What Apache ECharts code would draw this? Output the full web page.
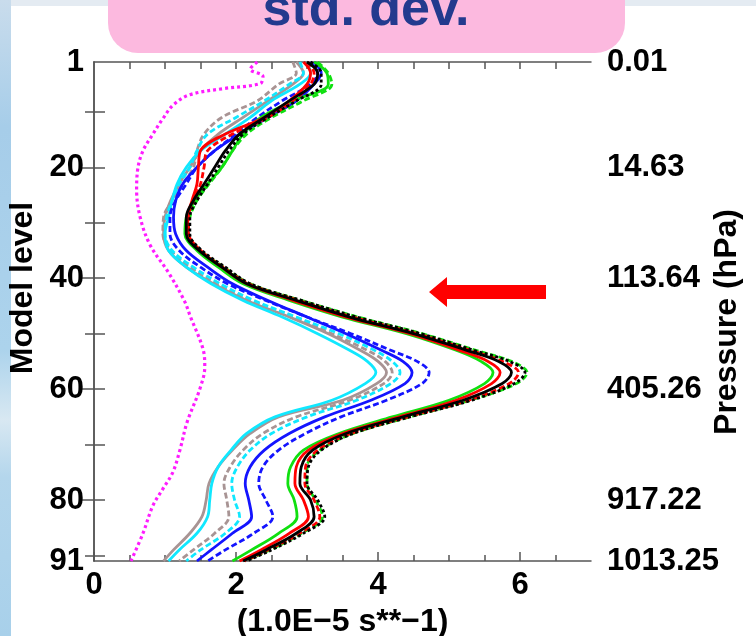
<!DOCTYPE html>
<html>
<head>
<meta charset="utf-8">
<script src="https://cdn.jsdelivr.net/npm/echarts@6/dist/echarts.min.js"></script>
<style>html,body{margin:0;padding:0;background:#fff}#c{width:756px;height:636px}</style>
</head>
<body>
<div id="c"></div>
<script>
// ---- data ----
const levels = [1,3,5,8,11,14,17,20,23,26,29,32,35,38,41,44,47,50,53,55,57,59,62,65,68,71,74,77,80,83,86,89,91];
const greenSolid = [3.1,3.28,3.3,2.8,2.35,2.1,1.95,1.8,1.6,1.42,1.3,1.28,1.45,1.75,2.1,2.75,3.5,4.4,5.1,5.45,5.62,5.5,5.0,4.2,3.45,2.95,2.77,2.73,2.82,2.86,2.6,2.22,1.95];
const greenDashed = [3.15,3.3,3.35,2.95,2.5,2.15,1.95,1.8,1.62,1.45,1.35,1.33,1.5,1.83,2.2,2.92,3.72,4.62,5.38,5.88,6.1,5.95,5.3,4.45,3.65,3.18,3.0,3.0,3.12,3.22,2.92,2.48,2.12];
const redSolid = [2.95,3.05,3.0,2.75,2.4,1.85,1.5,1.47,1.45,1.38,1.32,1.33,1.5,1.8,2.15,2.8,3.55,4.45,5.15,5.55,5.72,5.6,5.1,4.3,3.5,3.02,2.85,2.83,2.95,3.02,2.75,2.35,2.05];
const redDashed = [3.0,3.1,3.05,2.8,2.45,1.95,1.6,1.55,1.5,1.4,1.33,1.33,1.5,1.82,2.18,2.88,3.65,4.55,5.3,5.75,5.98,5.85,5.28,4.42,3.62,3.15,2.98,2.97,3.1,3.18,2.9,2.45,2.12];
const blackSolid = [3.0,3.15,3.1,2.75,2.4,2.05,1.85,1.7,1.55,1.4,1.3,1.3,1.48,1.8,2.15,2.85,3.6,4.5,5.25,5.7,5.88,5.75,5.2,4.35,3.55,3.08,2.92,2.9,3.05,3.1,2.85,2.42,2.1];
const blackDotted = [3.05,3.2,3.2,2.85,2.45,2.1,1.9,1.75,1.6,1.45,1.35,1.35,1.52,1.85,2.2,2.92,3.7,4.6,5.35,5.85,6.07,5.92,5.32,4.45,3.65,3.2,3.02,3.0,3.15,3.25,2.95,2.5,2.15];
const blueSolid = [3.1,3.2,3.1,2.85,2.45,2.05,1.7,1.45,1.25,1.15,1.12,1.15,1.3,1.6,1.95,2.45,3.0,3.55,4.05,4.35,4.48,4.38,3.9,3.25,2.75,2.4,2.2,2.13,2.18,2.22,1.95,1.65,1.45];
const blueDashed = [3.05,3.15,3.05,2.65,2.3,2.0,1.7,1.45,1.3,1.15,1.07,1.07,1.2,1.5,1.88,2.42,3.0,3.62,4.18,4.55,4.72,4.62,4.12,3.48,2.98,2.6,2.38,2.32,2.42,2.52,2.25,1.85,1.6];
const cyanSolid = [3.0,3.05,2.9,2.5,2.2,1.85,1.5,1.3,1.17,1.1,1.05,1.0,1.05,1.3,1.65,2.1,2.65,3.15,3.6,3.85,3.97,3.82,3.35,2.55,2.15,1.93,1.75,1.66,1.63,1.6,1.45,1.2,1.05];
const cyanDashed = [2.9,2.95,2.75,2.4,2.0,1.6,1.45,1.35,1.2,1.1,1.02,1.0,1.1,1.4,1.78,2.25,2.85,3.45,3.95,4.2,4.31,4.18,3.7,3.0,2.5,2.2,2.02,1.94,1.98,2.05,1.85,1.5,1.3];
const graySolid = [2.85,2.95,2.8,2.45,2.1,1.75,1.5,1.35,1.2,1.08,1.0,0.98,1.05,1.3,1.68,2.15,2.75,3.3,3.75,4.0,4.12,3.98,3.5,2.6,2.2,1.95,1.75,1.62,1.58,1.52,1.35,1.12,0.98];
const grayDashed = [2.8,2.85,2.6,2.3,1.8,1.55,1.45,1.4,1.25,1.1,0.98,0.97,1.08,1.35,1.72,2.2,2.8,3.35,3.85,4.1,4.2,4.08,3.6,2.85,2.38,2.1,1.92,1.83,1.87,1.9,1.7,1.4,1.2];
const levelsMagenta = [1,2.3,3.6,4.9,5.8,6.9,8.7,11.2,14,17,20,24,29,34,39,44,47,53,56,60,66,71,75,78,81,86,91];
const magentaDotted = [2.3,2.2,2.38,2.34,1.82,1.35,1.12,0.97,0.83,0.69,0.62,0.6,0.65,0.79,1.05,1.27,1.36,1.54,1.56,1.49,1.31,1.21,1.11,0.97,0.83,0.69,0.52];

const xLabelTicks = [0,2,4,6];
const xMinorTicks = [0.5,1,1.5,2.5,3,3.5,4.5,5,5.5,6.5];
const xTopTicks = [0.5,1,1.5,2,2.5,3,3.5,4,4.5,5,5.5,6,6.5];
const levelLabels = [1,20,40,60,80,91];
const levelTicks = [10,20,30,40,50,60,70,80,90];
const rightMajorTicks = [20,40,60,80];
const rightMinorTicks = [10,30,50,70,90];
const pressureLabels = ['0.01','14.63','113.64','405.26','917.22','1013.25'];

// ---- chart ----
const FONT = '"Liberation Sans", Arial, Helvetica, sans-serif';
const chart = echarts.init(document.getElementById('c'), null, {renderer:'canvas'});

function mk(name, vals, lv, color, type, width, z) {
  return {
    name, type:'line', xAxisIndex:0, yAxisIndex:0,
    data: lv.map((L,i)=>[vals[i], L]),
    symbol:'none', smooth:0.35, silent:true, z: z||2,
    lineStyle:{color, width: width||2.8, type: type||'solid', cap:'butt'}
  };
}
const DASH=[6,3], DOT=[3,2.5];
const series = [
  mk('magenta', magentaDotted, levelsMagenta, '#ff1cff', [3,3], 3.2),
  mk('graySolid', graySolid, levels, '#a89494', 'solid'),
  mk('grayDashed', grayDashed, levels, '#a89494', DASH),
  mk('cyanSolid', cyanSolid, levels, '#10e8ff', 'solid'),
  mk('cyanDashed', cyanDashed, levels, '#10e8ff', DASH),
  mk('blueSolid', blueSolid, levels, '#1414ff', 'solid'),
  mk('blueDashed', blueDashed, levels, '#1414ff', DASH),
  mk('greenSolid', greenSolid, levels, '#10e010', 'solid'),
  mk('greenDashed', greenDashed, levels, '#10e010', DASH),
  mk('redSolid', redSolid, levels, '#ff0000', 'solid'),
  mk('redDashed', redDashed, levels, '#ff0000', DASH),
  mk('blackSolid', blackSolid, levels, '#000000', 'solid'),
  mk('blackDotted', blackDotted, levels, '#000000', DOT)
];

const lineStyle = {color:'#555', width:1.5};
const labelStyle = {color:'#000', fontFamily:FONT, fontSize:31, fontWeight:'bold'};
const base = {type:'value', min:0, max:7, splitLine:{show:false}};
const ybase = {type:'value', min:1, max:91, inverse:true, splitLine:{show:false}};

const option = {
  animation:false,
  backgroundColor:'#ffffff',
  grid:{left:94, right:165, top:62, bottom:75, containLabel:false, outerBoundsMode:'none'},
  xAxis:[
    Object.assign({}, base, {position:'bottom',
      axisLine:{show:true, lineStyle},
      axisTick:{show:true, inside:true, length:9, lineStyle, customValues:xLabelTicks},
      axisLabel:Object.assign({show:true, margin:9, customValues:xLabelTicks}, labelStyle),
      name:'(1.0E\u22125 s**\u22121)', nameLocation:'middle', nameGap:39,
      nameTextStyle:{color:'#000', fontFamily:FONT, fontSize:32, fontWeight:'bold', verticalAlign:'top'}
    }),
    Object.assign({}, base, {position:'bottom',
      axisLine:{show:false},
      axisTick:{show:true, inside:true, length:6, lineStyle, customValues:xMinorTicks},
      axisLabel:{show:false}
    }),
    Object.assign({}, base, {position:'top',
      axisLine:{show:true, lineStyle},
      axisTick:{show:true, inside:true, length:7, lineStyle, customValues:xTopTicks},
      axisLabel:{show:false}
    })
  ],
  yAxis:[
    Object.assign({}, ybase, {position:'left',
      axisLine:{show:true, lineStyle},
      axisTick:{show:true, inside:true, length:11, lineStyle, customValues:levelTicks},
      axisLabel:Object.assign({show:true, margin:10, customValues:levelLabels}, labelStyle)
    }),
    Object.assign({}, ybase, {position:'right',
      axisLine:{show:true, lineStyle},
      axisTick:{show:true, inside:true, length:15, lineStyle, customValues:rightMajorTicks},
      axisLabel:Object.assign({show:true, margin:16, customValues:levelLabels,
        formatter:(v)=>pressureLabels[levelLabels.indexOf(v)]}, labelStyle)
    }),
    Object.assign({}, ybase, {position:'right',
      axisLine:{show:false},
      axisTick:{show:true, inside:true, length:9, lineStyle, customValues:rightMinorTicks},
      axisLabel:{show:false}
    })
  ],
  graphic:[
    {type:'rect', z:-10, silent:true, shape:{x:0,y:0,width:756,height:6},
      style:{fill:'#e4ebf2'}},
    {type:'rect', z:-10, silent:true, shape:{x:0,y:0,width:11,height:636},
      style:{fill:new echarts.graphic.LinearGradient(0,0,0,1,[
        {offset:0,color:'#c9dcec'},{offset:0.2,color:'#a6cde9'},{offset:0.55,color:'#acd3ec'},
        {offset:0.66,color:'#d8e8f2'},{offset:0.75,color:'#b4d6ec'},{offset:1,color:'#a8d0ea'}])}},
    {type:'rect', z:50, silent:true, shape:{x:108,y:-40,width:517,height:93,r:30},
      style:{fill:'#fcb9df'}},
    {type:'text', z:51, silent:true, x:366, y:11,
      style:{text:'std. dev.', fill:'#233a8e', font:'bold 52px ' + FONT, textAlign:'center', textVerticalAlign:'middle'}},
    {type:'polygon', z:51, silent:true,
      shape:{points:[[429,292],[447,277],[447,285],[546,285],[546,299],[447,299],[447,307]]},
      style:{fill:'#ff0000'}},
    {type:'text', z:51, silent:true, x:23, y:288, rotation:Math.PI/2,
      style:{text:'Model level', fill:'#000', font:'bold 32px ' + FONT, textAlign:'center', textVerticalAlign:'middle'}},
    {type:'text', z:51, silent:true, x:727, y:322, rotation:Math.PI/2,
      style:{text:'Pressure (hPa)', fill:'#000', font:'bold 32px ' + FONT, textAlign:'center', textVerticalAlign:'middle'}}
  ],
  series
};
chart.setOption(option);
</script>
</body>
</html>
